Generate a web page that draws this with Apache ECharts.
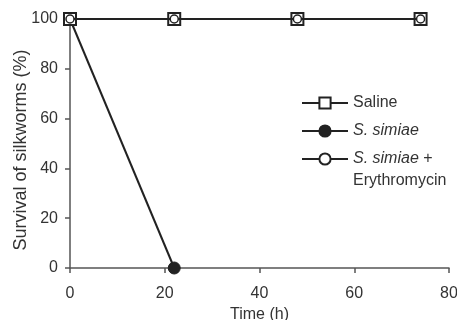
<!DOCTYPE html>
<html>
<head>
<meta charset="utf-8">
<script src="https://cdn.jsdelivr.net/npm/echarts@6/dist/echarts.min.js"></script>
<style>
html, body { margin: 0; padding: 0; background: #fff; }
#chart { width: 457px; height: 320px; }
</style>
</head>
<body>
<div id="chart"></div>
<script>
var seriesNames = ['Saline', 'S. simiae', 'S. simiae + Erythromycin'];
var salineTime = [0, 22, 48, 74];
var salineSurvival = [100, 100, 100, 100];
var simiaeTime = [0, 22];
var simiaeSurvival = [100, 0];
var erythroTime = [0, 22, 48, 74];
var erythroSurvival = [100, 100, 100, 100];
var xTicks = [0, 20, 40, 60, 80];
var yTicks = [0, 20, 40, 60, 80, 100];

function pairs(xs, ys) {
	return xs.map(function(x, i) {
		return [x, ys[i]];
	});
}

var ink = '#222';
var axisInk = '#555';
var textInk = '#333';
var font = 'Liberation Sans, Arial, sans-serif';

var myChart = echarts.init(document.getElementById('chart'));
var option = {
	backgroundColor: '#fff',
	animation: false,
	grid: {
		left: 70,
		right: 8,
		top: 19,
		bottom: 52,
		containLabel: false,
		outerBoundsMode: 'none'
	},
	legend: {
		orient: 'vertical',
		left: 296,
		top: 90,
		itemWidth: 46,
		itemHeight: 14,
		itemGap: 12,
		selectedMode: false,
		data: [
			{ name: seriesNames[0] },
			{ name: seriesNames[1] },
			{ name: seriesNames[2], textStyle: { padding: [22, 0, 0, 0] } }
		],
		formatter: function(name) {
			if (name === seriesNames[0]) return '{n|Saline}';
			if (name === seriesNames[1]) return '{i|S. simiae}';
			return '{i|S. simiae} {n|+}\n{n|Erythromycin}';
		},
		textStyle: {
			fontFamily: font,
			fontSize: 16,
			color: textInk,
			rich: {
				n: { fontFamily: font, fontSize: 16, color: textInk, lineHeight: 22 },
				i: { fontFamily: font, fontSize: 16, color: textInk, fontStyle: 'italic', lineHeight: 22 }
			}
		}
	},
	xAxis: {
		type: 'value',
		min: xTicks[0],
		max: xTicks[xTicks.length - 1],
		interval: 20,
		name: 'Time (h)',
		nameLocation: 'middle',
		nameGap: 39,
		nameMoveOverlap: false,
		nameTextStyle: { fontFamily: font, fontSize: 16, color: textInk },
		axisLine: { show: true, lineStyle: { color: axisInk, width: 1.5 } },
		axisTick: { show: true, length: 5, lineStyle: { color: axisInk, width: 1.5 } },
		axisLabel: { fontFamily: font, fontSize: 16, color: textInk, margin: 18 },
		splitLine: { show: false }
	},
	yAxis: {
		type: 'value',
		min: yTicks[0],
		max: yTicks[yTicks.length - 1],
		interval: 20,
		name: 'Survival of silkworms (%)',
		nameLocation: 'middle',
		nameGap: 40,
		nameMoveOverlap: false,
		nameTextStyle: { fontFamily: font, fontSize: 18, color: textInk, padding: [0, 13, 0, 0] },
		axisLine: { show: true, lineStyle: { color: axisInk, width: 1.5 } },
		axisTick: { show: true, length: 5, lineStyle: { color: axisInk, width: 1.5 } },
		axisLabel: { fontFamily: font, fontSize: 16, color: textInk, margin: 12 },
		splitLine: { show: false }
	},
	series: [{
			name: seriesNames[1],
			type: 'line',
			clip: false,
			data: pairs(simiaeTime, simiaeSurvival),
			symbol: 'circle',
			symbolSize: 12,
			lineStyle: { color: ink, width: 2 },
			itemStyle: { color: ink, borderColor: ink, borderWidth: 1 },
			z: 2
		},
		{
			name: seriesNames[0],
			type: 'line',
			clip: false,
			data: pairs(salineTime, salineSurvival),
			symbol: 'rect',
			symbolSize: 12,
			lineStyle: { color: ink, width: 2 },
			itemStyle: { color: '#fff', borderColor: ink, borderWidth: 2 },
			z: 3
		},
		{
			name: seriesNames[2],
			type: 'line',
			clip: false,
			data: pairs(erythroTime, erythroSurvival),
			symbol: 'circle',
			symbolSize: 8,
			lineStyle: { color: ink, width: 2 },
			itemStyle: { color: '#fff', borderColor: ink, borderWidth: 1.5 },
			z: 4
		}
	]
};
myChart.setOption(option);
</script>
</body>
</html>
